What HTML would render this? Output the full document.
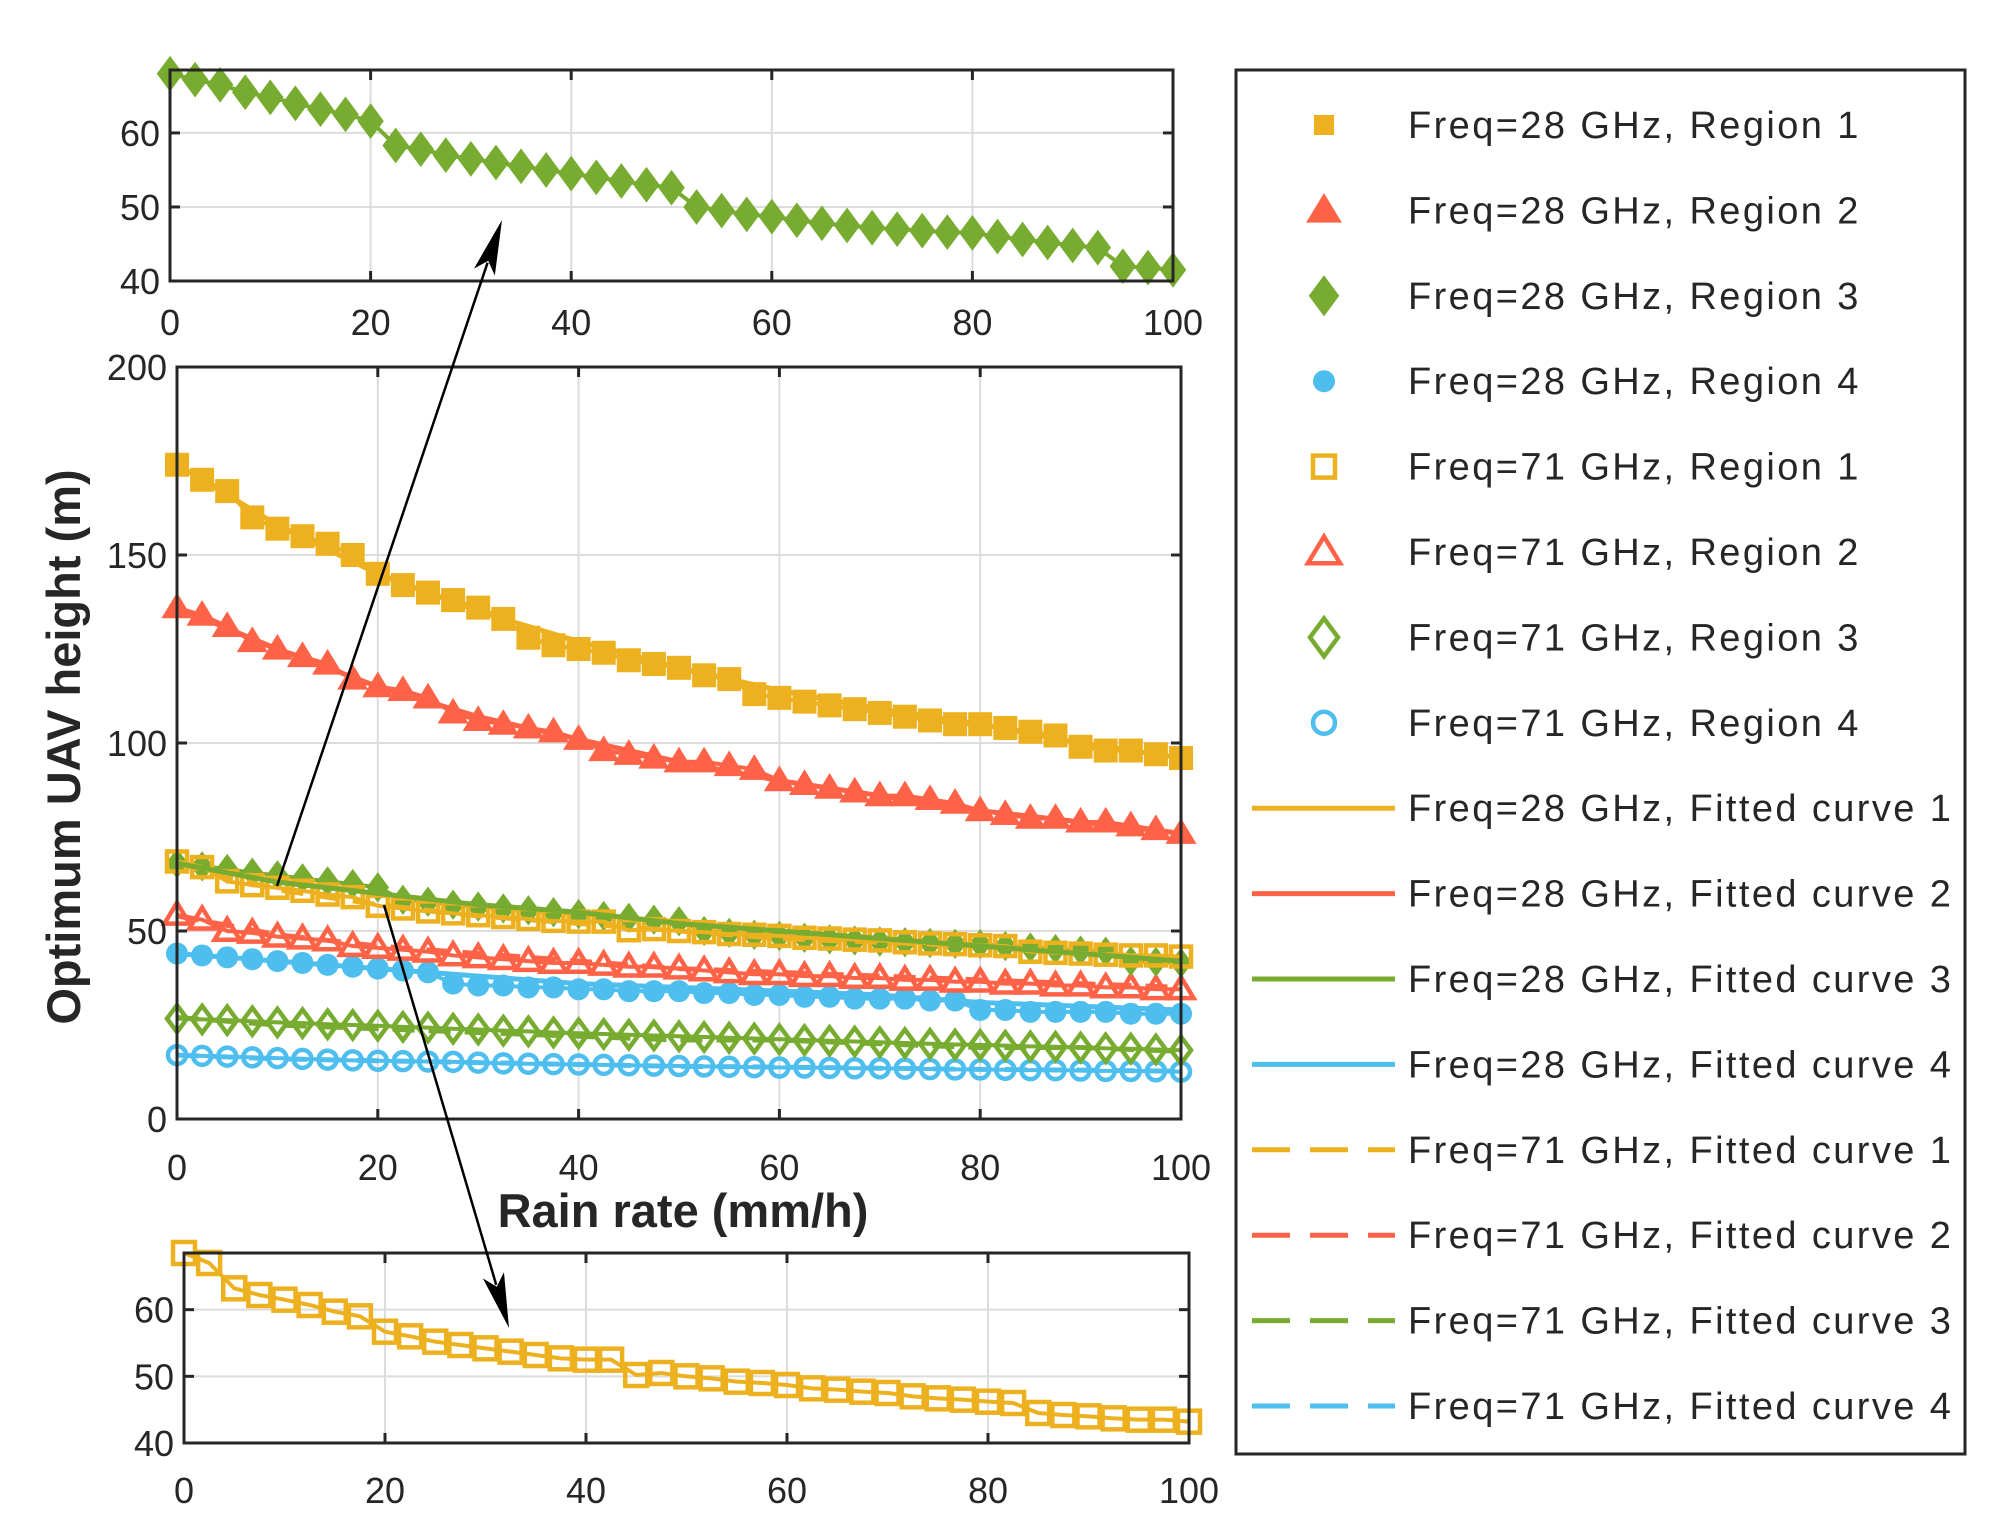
<!DOCTYPE html>
<html><head><meta charset="utf-8"><style>
html,body{margin:0;padding:0;background:#fff;}
svg{display:block;font-family:"Liberation Sans",Arial,sans-serif;}
</style></head><body>
<svg id="chart" width="2010" height="1537" viewBox="0 0 2010 1537" xmlns="http://www.w3.org/2000/svg">
<rect width="2010" height="1537" fill="#fff"/>
<g id="main"></g>
<g id="topInset"></g>
<g id="botInset"></g>
<g id="arrows"></g>
<g id="legend"></g>
</svg>
<script>
const rain = [0,2.5,5,7.5,10,12.5,15,17.5,20,22.5,25,27.5,30,32.5,35,37.5,40,42.5,45,47.5,50,52.5,55,57.5,60,62.5,65,67.5,70,72.5,75,77.5,80,82.5,85,87.5,90,92.5,95,97.5,100];
const r28_1 = [174,170,167,160,157,155,153,150,145,142,140,138,136,133,128,126,125,124,122,121,120,118,117,113,112,111,110,109,108,107,106,105,105,104,103,102,99,98,98,97,96];
const r28_2 = [136,134,131,127,125,123,121,117,115,114,112,108,106,105,104,103,101,98,97,96,95,95,94,93,90,89,88,87,86,86,85,84,82,81,80,80,79,79,78,77,76];
const r28_3 = [68,67.2,66.5,65.5,64.8,64,63.2,62.5,61.6,58.3,57.8,57,56.5,56,55.5,55,54.5,54,53.5,53,52.6,50,49.5,49,48.7,48.2,47.8,47.5,47.2,47,46.8,46.6,46.5,46,45.6,45.2,44.8,44.5,42,41.8,41.5];
const r28_4 = [44,43.5,43,42.5,42,41.5,41,40.5,40,39.5,39,36,35.5,35.5,35,35,34.5,34.5,34,34,34,33.5,33.5,33,33,32.5,32.5,32,32,32,31.5,31.5,29,29,28.5,28.5,28.5,28.5,28,28,28];
const r71_1 = [68.5,67,63.2,62.2,61.5,60.7,59.7,59,56.7,56,55.2,54.7,54.2,53.7,53.2,52.7,52.5,52.5,50.2,50.5,50,49.7,49.2,49,48.7,48.2,48,47.7,47.5,47,46.7,46.5,46.2,46,44.5,44.2,44,43.7,43.5,43.5,43.2];
const r71_2 = [54.3,53,50,49.5,48.5,48,47.5,46,45.5,45,44.5,43.5,43,42.5,42,41.5,41.5,41,40.5,40.5,40,39.5,39,38.5,38.5,38,38,37.5,37.5,37,37,36.5,36.5,36,36,35.5,35.5,35,35,34.5,34.5];
const r71_3 = [26.7,26.5,26.3,26,25.7,25.5,25.2,25,24.8,24.5,24.3,24,23.8,23.5,23.3,23,22.8,22.6,22.4,22.2,22,21.8,21.6,21.4,21.2,21,20.8,20.6,20.4,20.2,20,19.8,19.7,19.5,19.3,19.2,19,18.8,18.7,18.5,18.3];
const r71_4 = [17,16.8,16.6,16.4,16.2,16,15.8,15.6,15.5,15.4,15.3,15.2,15,14.8,14.7,14.6,14.5,14.4,14.3,14.2,14.1,14,13.9,13.8,13.7,13.7,13.6,13.5,13.5,13.4,13.3,13.2,13.2,13.1,13,13,12.9,12.8,12.8,12.7,12.6];
const fitX = [0,10,20,30,40,50,60,70,80,90,100];
const fit28_1 = [174,158,145,135,127,120,114,109,105,100,96];
const fit28_2 = [136,125,115,107,101,95,90,86,82,79,76];
const fit28_3 = [68,63,60,57,55,52,50,48,46,44,42];
const fit28_4 = [44,42,40,38,36,35,34,33,31,30,29];
const fit71_1 = [68,61,57,54,52,50,48,47,46,44,43];
const fit71_2 = [54,49,46,44,42,40,39,38,37,36,35];
const fit71_3 = [27,25,24,23,22,21,21,20,19,19,18];
const fit71_4 = [17,16,15.5,15,14.5,14,13.8,13.5,13.2,13,12.7];
const xTicks = [0,20,40,60,80,100];
const mainYTicks = [0,50,100,150,200];
const insetYTicks = [40,50,60];
const legendLabels = ["Freq=28 GHz, Region 1","Freq=28 GHz, Region 2","Freq=28 GHz, Region 3","Freq=28 GHz, Region 4","Freq=71 GHz, Region 1","Freq=71 GHz, Region 2","Freq=71 GHz, Region 3","Freq=71 GHz, Region 4","Freq=28 GHz, Fitted curve 1","Freq=28 GHz, Fitted curve 2","Freq=28 GHz, Fitted curve 3","Freq=28 GHz, Fitted curve 4","Freq=71 GHz, Fitted curve 1","Freq=71 GHz, Fitted curve 2","Freq=71 GHz, Fitted curve 3","Freq=71 GHz, Fitted curve 4"];

const C = {o:"#EDB120", r:"#FF6347", g:"#77AC30", b:"#4DBEEE"};
const NS = "http://www.w3.org/2000/svg";
function mk(tag, attrs, parent){const e=document.createElementNS(NS,tag);for(const k in attrs)e.setAttribute(k,attrs[k]);parent.appendChild(e);return e;}

function axes(g, x0,x1,y0,y1, ymin,ymax, yt, clipId){
  const sx = v => x0 + (v/100)*(x1-x0);
  const sy = v => y1 - (v-ymin)/(ymax-ymin)*(y1-y0);
  xTicks.forEach(t=>{ if(t>0&&t<100){const l=mk("line",{x1:sx(t),x2:sx(t),y1:y0,y2:y1,stroke:"#dcdcdc","stroke-width":2},g);
    
    }});
  yt.forEach(t=>{ const y=sy(t); if(y>y0+1&&y<y1-1){const l=mk("line",{x1:x0,x2:x1,y1:y,y2:y,stroke:"#dcdcdc","stroke-width":2},g);
    
    }});
  return {sx,sy};
}
function frame(g,x0,x1,y0,y1,ymin,ymax,yt,sx,sy,labY){
  mk("rect",{x:x0,y:y0,width:x1-x0,height:y1-y0,fill:"none",stroke:"#262626","stroke-width":3},g);
  xTicks.forEach(t=>{const x=sx(t);
    mk("line",{x1:x,x2:x,y1:y1,y2:y1-10,stroke:"#262626","stroke-width":3},g);
    mk("line",{x1:x,x2:x,y1:y0,y2:y0+10,stroke:"#262626","stroke-width":3},g);
    const tx=mk("text",{x:x,y:labY,"text-anchor":"middle","font-size":36,fill:"#262626"},g);tx.textContent=t;
    
    });
  yt.forEach(t=>{const y=sy(t);
    mk("line",{x1:x0,x2:x0+10,y1:y,y2:y,stroke:"#262626","stroke-width":3},g);
    mk("line",{x1:x1,x2:x1-10,y1:y,y2:y,stroke:"#262626","stroke-width":3},g);
    const tx=mk("text",{x:x0-10,y:y+13,"text-anchor":"end","font-size":36,fill:"#262626"},g);tx.textContent=t;
    
    });
}
function marker(g,type,x,y,col,fill,s){
  let e;
  const f = fill? col : "none", sw = fill?0:4.5;
  if(type==="sq"){ e=mk("rect",{x:x-s,y:y-s,width:2*s,height:2*s,fill:f,stroke:col,"stroke-width":fill?2:sw},g); }
  else if(type==="tri"){ e=mk("polygon",{points:`${x},${y-s*1.1} ${x+s*1.15},${y+s*0.8} ${x-s*1.15},${y+s*0.8}`,fill:f,stroke:col,"stroke-width":fill?2:sw,"stroke-linejoin":"miter"},g); }
  else if(type==="dia"){ e=mk("polygon",{points:`${x},${y-s*1.35} ${x+s},${y} ${x},${y+s*1.35} ${x-s},${y}`,fill:f,stroke:col,"stroke-width":fill?2:sw},g); }
  else { e=mk("circle",{cx:x,cy:y,r:s,fill:f,stroke:col,"stroke-width":sw},g); }
  return e;
}
function series(g,xs,ys,sx,sy,type,col,fill,s,name){
  const sg=mk("g",{},g);
  
  
  mk("polyline",{points:xs.map((x,i)=>sx(x)+","+sy(ys[i])).join(" "),fill:"none",stroke:col,"stroke-width":4},sg);
  xs.forEach((x,i)=>{const m=marker(sg,type,sx(x),sy(ys[i]),col,fill,s);
    
    });
}
function fitline(g,xs,ys,sx,sy,col,dash,name){
  const l=mk("polyline",{points:xs.map((x,i)=>sx(x)+","+sy(ys[i])).join(" "),fill:"none",stroke:col,"stroke-width":5,"stroke-dasharray":dash?"22,14":"none"},g);
  
  
}

// main plot
const gm=document.getElementById("main");
const M={x0:177,x1:1181,y0:367,y1:1119};
const am=axes(gm,M.x0,M.x1,M.y0,M.y1,0,200,mainYTicks,"clipMain");
fitline(gm,fitX,fit28_1,am.sx,am.sy,C.o,false,'fit-28-1');
fitline(gm,fitX,fit28_2,am.sx,am.sy,C.r,false,'fit-28-2');
fitline(gm,fitX,fit28_4,am.sx,am.sy,C.b,false,'fit-28-4');
fitline(gm,fitX,fit71_2,am.sx,am.sy,C.r,true,'fit-71-2');
fitline(gm,fitX,fit71_3,am.sx,am.sy,C.g,true,'fit-71-3');
fitline(gm,fitX,fit71_4,am.sx,am.sy,C.b,true,'fit-71-4');
series(gm,rain,r71_4,am.sx,am.sy,"circ",C.b,false,9,'series-71-region4');
series(gm,rain,r71_3,am.sx,am.sy,"dia",C.g,false,10,'series-71-region3');
series(gm,rain,r28_4,am.sx,am.sy,"circ",C.b,true,11,'series-28-region4');
series(gm,rain,r71_2,am.sx,am.sy,"tri",C.r,false,11,'series-71-region2');
series(gm,rain,r28_3,am.sx,am.sy,"dia",C.g,true,10,'series-28-region3');
series(gm,rain,r71_1,am.sx,am.sy,"sq",C.o,false,10,'series-71-region1');
fitline(gm,fitX,fit71_1,am.sx,am.sy,C.o,true,'fit-71-1');
fitline(gm,fitX,fit28_3,am.sx,am.sy,C.g,false,'fit-28-3');
series(gm,rain,r28_2,am.sx,am.sy,"tri",C.r,true,12,'series-28-region2');
series(gm,rain,r28_1,am.sx,am.sy,"sq",C.o,true,11,'series-28-region1');
frame(gm,M.x0,M.x1,M.y0,M.y1,0,200,mainYTicks,am.sx,am.sy,1180);
let t=mk("text",{x:683,y:1227,"text-anchor":"middle","font-size":47,"font-weight":"bold",fill:"#262626"},gm);t.textContent="Rain rate (mm/h)";


t=mk("text",{x:0,y:0,"text-anchor":"middle","font-size":47,"font-weight":"bold",fill:"#262626",transform:"translate(80,747) rotate(-90)"},gm);t.textContent="Optimum UAV height (m)";



// top inset
const gt=document.getElementById("topInset");
const T={x0:170,x1:1173,y0:70,y1:281};
const at=axes(gt,T.x0,T.x1,T.y0,T.y1,40,68.5,insetYTicks,"clipTop");
series(gt,rain,r28_3,at.sx,at.sy,"dia",C.g,true,12,'inset-28-region3');
frame(gt,T.x0,T.x1,T.y0,T.y1,40,68.5,insetYTicks,at.sx,at.sy,335);

// bottom inset
const gb=document.getElementById("botInset");
const B={x0:184,x1:1189,y0:1253,y1:1443};
const ab=axes(gb,B.x0,B.x1,B.y0,B.y1,40,68.5,insetYTicks,"clipBot");
series(gb,rain,r71_1,ab.sx,ab.sy,"sq",C.o,false,11,'inset-71-region1');
frame(gb,B.x0,B.x1,B.y0,B.y1,40,68.5,insetYTicks,ab.sx,ab.sy,1503);

// arrows
const ga=document.getElementById("arrows");
function arrow(x1,y1,x2,y2,name){
  const g=mk("g",{},ga);
  
  
  const dx=x2-x1,dy=y2-y1,L=Math.hypot(dx,dy),ux=dx/L,uy=dy/L,px=-uy,py=ux;
  const hl=55,hw=11,bx=x2-ux*hl,by=y2-uy*hl;
  mk("line",{x1:x1,y1:y1,x2:bx+ux*10,y2:by+uy*10,stroke:"#000","stroke-width":2.5},g);
  mk("polygon",{points:`${x2},${y2} ${bx+px*hw},${by+py*hw} ${bx+ux*12},${by+uy*12} ${bx-px*hw},${by-py*hw}`,fill:"#000"},g);
}
arrow(277,886,502,220,'arrow-to-top-inset');
arrow(384,905,509,1328,'arrow-to-bottom-inset');

// legend
const gl=document.getElementById("legend");
const lb=mk("rect",{x:1236,y:70,width:729,height:1384,fill:"#fff",stroke:"#262626","stroke-width":3},gl);


const mtypes=[["sq",C.o,true],["tri",C.r,true],["dia",C.g,true],["circ",C.b,true],["sq",C.o,false],["tri",C.r,false],["dia",C.g,false],["circ",C.b,false]];
const lcols=[C.o,C.r,C.g,C.b];
legendLabels.forEach((lab,i)=>{
  const y=125+i*85.4;
  const eg=mk("g",{},gl);
  
  
  if(i<8){const m=mtypes[i];marker(eg,m[0],1324,y,m[1],m[2],m[0]==="sq"?(m[2]?9:11):(m[0]==="circ"?11:14));}
  else{const k=(i-8)%4,dash=i>=12;
    mk("line",{x1:1252,x2:1395,y1:y,y2:y,stroke:lcols[k],"stroke-width":5,"stroke-dasharray":dash?"38,20":"none"},eg);}
  const tx=mk("text",{x:1408,y:y+13,"font-size":38,"letter-spacing":2.4,fill:"#262626"},eg);tx.textContent=lab;
  
  
});
</script>
</body></html>
